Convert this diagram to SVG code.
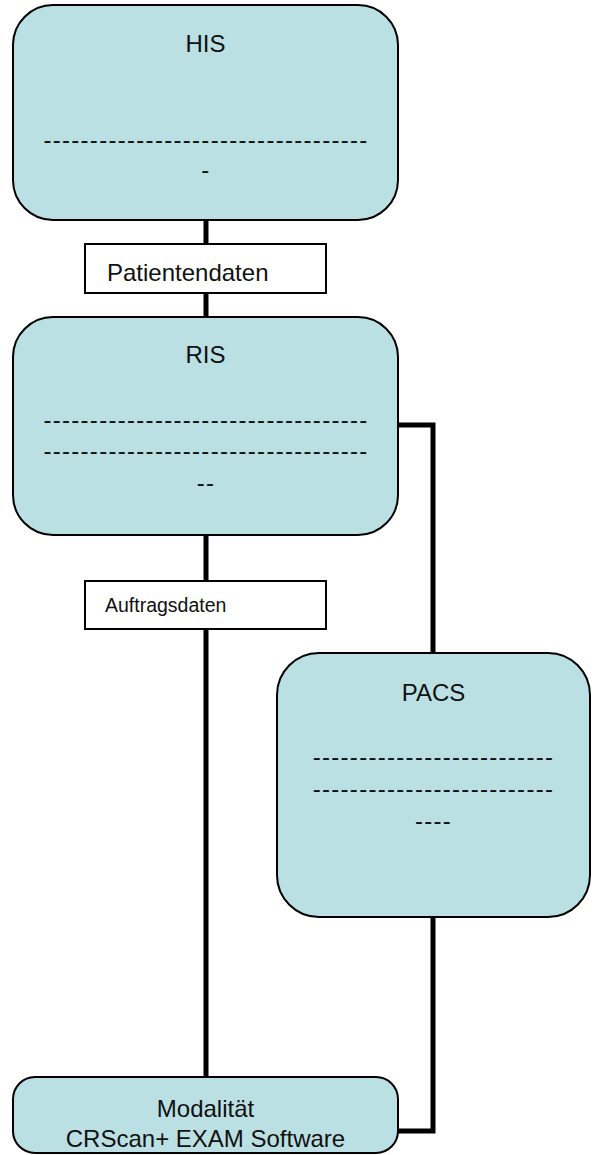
<svg xmlns="http://www.w3.org/2000/svg" width="594" height="1155" viewBox="0 0 594 1155">
  <style>
    .node { fill: #bae0e3; stroke: #000; stroke-width: 2; }
    .label-box { fill: #fff; stroke: #000; stroke-width: 2; }
    .wire { fill: none; stroke: #000; stroke-width: 5; stroke-linejoin: miter; stroke-linecap: butt; }
    text { font-family: "Liberation Sans", Arial, sans-serif; fill: #111; }
    .title { font-size: 24px; text-anchor: middle; }
    .dash { font-size: 24px; text-anchor: middle; letter-spacing: 1.3px; }
    .lbl { font-size: 24px; }
    .lbl-small { font-size: 19.5px; }
  </style>

  <!-- connectors -->
  <g id="connectors">
    <path class="wire" d="M206 220 V317"/>
    <path class="wire" d="M398 425 H433 V653"/>
    <path class="wire" d="M206 535 V1077"/>
    <path class="wire" d="M433 917 V1131 H398"/>
  </g>

  <!-- HIS -->
  <g id="his">
    <rect class="node" x="13" y="5" width="385" height="215" rx="40" ry="40"/>
    <text class="title" x="205.5" y="52">HIS</text>
    <text class="dash" x="206" y="148">-----------------------------------</text>
    <text class="dash" x="206" y="178">-</text>
  </g>

  <!-- label on HIS-RIS link -->
  <g id="label-patientendaten">
    <rect class="label-box" x="85" y="244" width="241" height="49"/>
    <text class="lbl" x="107" y="281">Patientendaten</text>
  </g>

  <!-- RIS -->
  <g id="ris">
    <rect class="node" x="13" y="317" width="385" height="218" rx="40" ry="40"/>
    <text class="title" x="205.5" y="363">RIS</text>
    <text class="dash" x="206" y="428">-----------------------------------</text>
    <text class="dash" x="206" y="459">-----------------------------------</text>
    <text class="dash" x="206" y="491">--</text>
  </g>

  <!-- label on RIS-Modalitaet link -->
  <g id="label-auftragsdaten">
    <rect class="label-box" x="85" y="581" width="241" height="48"/>
    <text class="lbl-small" x="105" y="612">Auftragsdaten</text>
  </g>

  <!-- PACS -->
  <g id="pacs">
    <rect class="node" x="277" y="653" width="313" height="264" rx="42" ry="42"/>
    <text class="title" x="433.5" y="701">PACS</text>
    <text class="dash" x="433.5" y="765">--------------------------</text>
    <text class="dash" x="433.5" y="797">--------------------------</text>
    <text class="dash" x="433.5" y="829">----</text>
  </g>

  <!-- Modalitaet -->
  <g id="modalitaet">
    <rect class="node" x="13" y="1077" width="385" height="76" rx="22" ry="22"/>
    <text class="title" x="205.5" y="1117">Modalität</text>
    <text class="title" x="205.5" y="1147">CRScan+ EXAM Software</text>
  </g>
</svg>
